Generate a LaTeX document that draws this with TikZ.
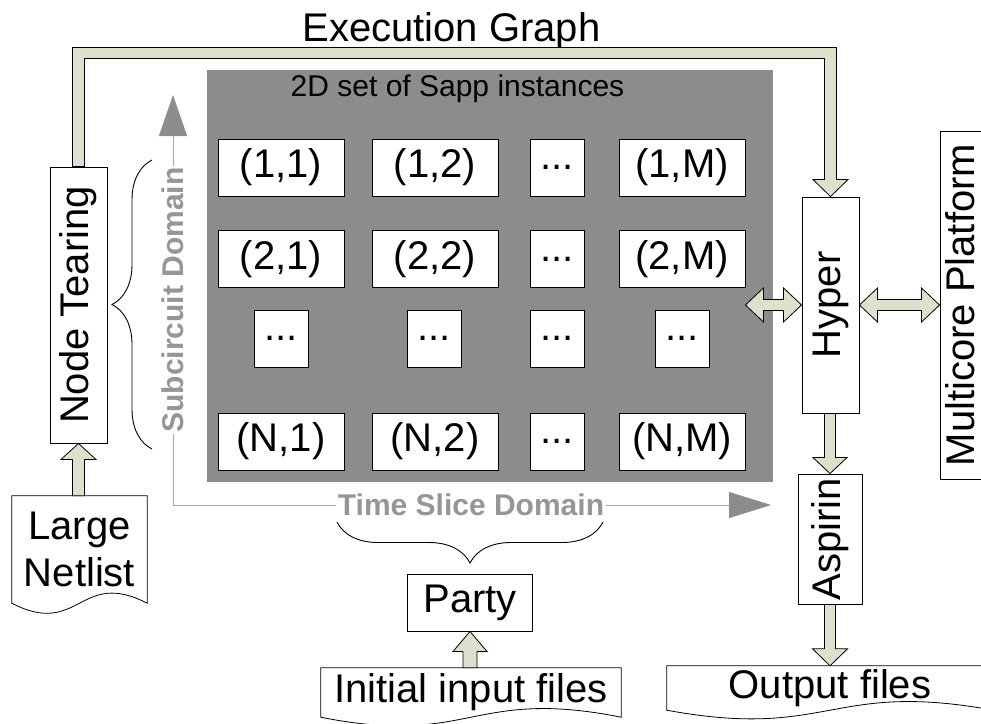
\documentclass[tikz,border=0pt]{standalone}
\usepackage{fontspec}
\setmainfont{Liberation Sans}
\usetikzlibrary{calc,arrows.meta,decorations.pathreplacing}
\definecolor{afill}{RGB}{221,224,204}
\definecolor{gbox}{RGB}{140,140,140}
\definecolor{gline}{RGB}{165,165,165}
\definecolor{ghead}{RGB}{140,140,140}
\definecolor{gtext}{RGB}{150,150,150}

% block arrow: start, tip, shaft half width, head half width, head length
\newcommand\blockarr[5]{%
 \coordinate (ba-s) at (#1);
 \coordinate (ba-t) at (#2);
 \coordinate (ba-h) at ($(ba-t)!#5pt!(ba-s)$);
 \draw[barrow] ($(ba-s)!#3pt!90:(ba-t)$) -- ($(ba-h)!#3pt!-90:(ba-s)$) -- ($(ba-h)!#4pt!-90:(ba-s)$) -- (ba-t) -- ($(ba-h)!#4pt!90:(ba-s)$) -- ($(ba-h)!#3pt!90:(ba-s)$) -- ($(ba-s)!#3pt!-90:(ba-t)$) -- cycle;
}
% double block arrow: tip A, tip B, shaft half, head half, head length
\newcommand\dblarr[5]{%
 \coordinate (da-a) at (#1);
 \coordinate (da-b) at (#2);
 \coordinate (da-ha) at ($(da-a)!#5pt!(da-b)$);
 \coordinate (da-hb) at ($(da-b)!#5pt!(da-a)$);
 \draw[barrow] (da-a) -- ($(da-ha)!#4pt!90:(da-b)$) -- ($(da-ha)!#3pt!90:(da-b)$) -- ($(da-hb)!#3pt!-90:(da-a)$) -- ($(da-hb)!#4pt!-90:(da-a)$) -- (da-b) -- ($(da-hb)!#4pt!90:(da-a)$) -- ($(da-hb)!#3pt!90:(da-a)$) -- ($(da-ha)!#3pt!-90:(da-b)$) -- ($(da-ha)!#4pt!-90:(da-b)$) -- cycle;
}
% document shape around a node: name, wave amplitude
\newcommand\docshape[2]{%
 \draw[docline] (#1.north west) -- (#1.north east) -- (#1.south east) .. controls ($(#1.south)+(0,-#2)$) and ($(#1.south)+(0,#2)$) .. (#1.south west) -- cycle;
}

\begin{document}
\begin{tikzpicture}[x=1pt,y=-1pt,
 box/.style={draw=black,line width=0.9pt,fill=white,inner sep=0pt},
 cell/.style={box,big,minimum width=126pt,minimum height=57pt},
 dotbox/.style={box,big,minimum width=54pt,minimum height=57pt},
 big/.style={font=\fontsize{40pt}{47pt}\selectfont},
 mid/.style={font=\fontsize{30pt}{34pt}\selectfont},
 barrow/.style={draw=black,line width=0.8pt,fill=afill,line join=miter},
 docline/.style={draw=black,line width=0.8pt},
 brc/.style={draw=black,line width=0.9pt,decorate,decoration={brace,amplitude=#1}},
 glabel/.style={font=\fontsize{30pt}{34pt}\selectfont\bfseries,text=gtext,fill=white,inner xsep=1.5pt,inner ysep=0pt}]

\path[use as bounding box] (0,0) rectangle (981,723);
\clip (0,0) rectangle (981,723);

% gray container
\node[fill=gbox,minimum width=566pt,minimum height=412pt,inner sep=0pt] (grid) at (490,276) {};
\node[mid,inner sep=0pt] (gridlbl) at (457.5,89) {2D set of Sapp instances};

% cells
\node[cell] (c11) at (281,167.5) {(1,1)};
\node[cell] (c12) at (435,167.5) {(1,2)};
\node[dotbox] (c13) at (557,167.5) {...};
\node[cell] (c1M) at (682,167.5) {(1,M)};

\node[cell] (c21) at (281,259) {(2,1)};
\node[cell] (c22) at (435,259) {(2,2)};
\node[dotbox] (c23) at (557,259) {...};
\node[cell] (c2M) at (682,259) {(2,M)};

\node[dotbox] (c31) at (281,338.5) {...};
\node[dotbox] (c32) at (434,338.5) {...};
\node[dotbox] (c33) at (557,338.5) {...};
\node[dotbox] (c3M) at (682,338.5) {...};

\node[cell] (cN1) at (281,441.5) {(N,1)};
\node[cell] (cN2) at (435,441.5) {(N,2)};
\node[dotbox] (cN3) at (557,441.5) {...};
\node[cell] (cNM) at (682,441.5) {(N,M)};

% main boxes
\node[box,minimum width=57pt,minimum height=276pt] (nt) at (78.5,305) {};
\node[big,rotate=90,inner sep=0pt] (nt-t) at (nt.center) {Node Tearing};

\node[box,minimum width=57pt,minimum height=216pt] (hyper) at (830.5,305) {};
\node[big,rotate=90,inner sep=0pt] (hyper-t) at (hyper.center) {Hyper};

\node[box,minimum width=64pt,minimum height=130pt] (asp) at (830,539) {};
\node[big,rotate=90,inner sep=0pt] (asp-t) at (asp.center) {Aspirin};

\node[box,minimum width=48pt,minimum height=348pt] (mc) at (964,305) {};
\node[big,rotate=90,inner sep=0pt,text depth=0pt,anchor=base] (mc-t) at (mc.center -| 974,0) {Multicore Platform};

\node[box,big,minimum width=125pt,minimum height=57pt] (party) at (470,602.5) {Party};

% documents
\node[big,align=center,minimum width=135pt,minimum height=107pt,inner sep=0pt] (netlist) at (79.5,549.5) {Large\\Netlist};
\docshape{netlist}{35}
\node[big,minimum width=300pt,minimum height=49pt,inner sep=0pt] (init) at (471,692.5) {Initial input files};
\docshape{init}{30}
\node[big,minimum width=326pt,minimum height=44pt,inner sep=0pt] (out) at (830,688) {Output files};
\docshape{out}{30}

% title
\node[big,inner sep=0pt] (eg-t) at (451.5,31) {Execution Graph};

% execution graph arrow
\draw[barrow] ($(nt.north)+(-6,0)$) |- ($(hyper.north)+(6,-149)$) -- ($(hyper.north)+(6,-17)$) -- ($(hyper.north)+(17.5,-17)$) -- (hyper.north) -- ($(hyper.north)+(-17.5,-17)$) -- ($(hyper.north)+(-6,-17)$) |- ($(nt.north)+(6,-108)$) -- ($(nt.north)+(6,0)$) -- cycle;

% block arrows
\blockarr{nt.south |- netlist.north}{nt.south}{6}{17.5}{16}
\blockarr{party.south |- init.north}{party.south}{7}{17}{20}
\blockarr{asp.north |- hyper.south}{asp.north}{5.5}{17}{16}
\blockarr{out.north |- asp.south}{out.north}{5.5}{17.5}{17}
\dblarr{c1M.east |- hyper.west}{hyper.west}{5.5}{17}{18}
\dblarr{hyper.east}{mc.west}{5.5}{17}{18}

% domain axes
\coordinate (subtip) at (173,95);
\coordinate (tstip) at (771,505);
\draw[draw=gline,line width=1pt,{Triangle[length=41pt,width=28pt,color=ghead]}-{Triangle[length=42pt,width=26pt,color=ghead]}] (subtip) |- (tstip);
\node[glabel,rotate=90] (sublbl) at (173,300) {Subcircuit Domain};
\node[glabel] (tslbl) at (471,505) {Time Slice Domain};

% braces
\draw[brc=40pt] (152,449) -- (152,160);
\draw[brc=41pt] (603,522) -- (337,522);
\end{tikzpicture}
\end{document}
